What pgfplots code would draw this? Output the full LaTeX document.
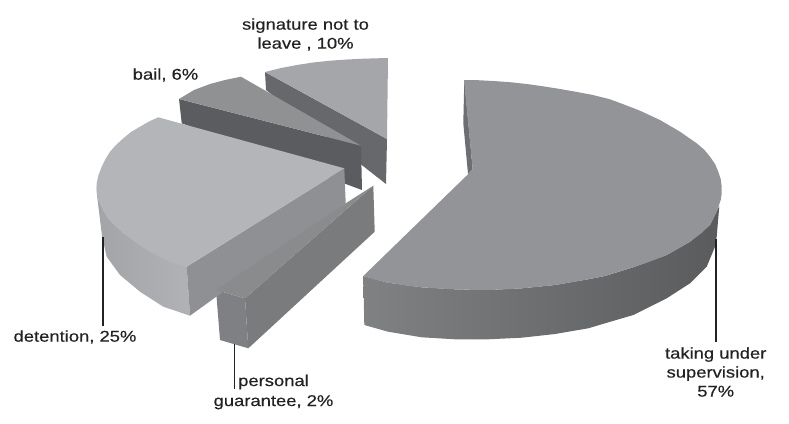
\documentclass[border=0pt]{standalone}
\usepackage{fontspec}
\setmainfont[FakeStretch=1.18,FakeBold=0.4]{Liberation Sans}
\usepackage{pgfplots}
\pgfplotsset{compat=1.18}
\definecolor{txt}{HTML}{222222}
\tikzset{lbl/.style={font=\fontsize{15.6}{19}\selectfont, text=txt, align=center, inner sep=0pt}}
\begin{document}
\begin{tikzpicture}
\path[use as bounding box] (0,0) rectangle (789pt,423pt);
\begin{axis}[
  at={(0,0)}, anchor=south west,
  scale only axis, width=789pt, height=423pt,
  xmin=0, xmax=789, ymin=0, ymax=423, y dir=reverse,
  axis lines=none, clip=false,
  every axis plot/.append style={draw=none, forget plot},
]
% signature not to leave: 10%
\addplot[fill={rgb,255:red,103;green,104;blue,107}] coordinates {(265,72) (387,139) (386,184) (266,90)} --cycle;
\addplot[fill={rgb,255:red,164;green,166;blue,169}] coordinates {(265,72) (281,68) (297,65) (313,62.5) (330,60.7) (347,59.5) (363,58.7) (388,58) (387,139)} --cycle;
% bail: 6%
\addplot[fill={rgb,255:red,91;green,92;blue,95}] coordinates {(179,99) (361,145.7) (362,190) (181.7,123.3)} --cycle;
\addplot[fill={rgb,255:red,143;green,145;blue,147}] coordinates {(179,99) (194,90) (210,84) (225,80) (241,76.7) (361,145.7)} --cycle;
% personal guarantee: 2%
\addplot[fill={rgb,255:red,127;green,128;blue,131}] coordinates {(216,290) (245,298.3) (248.3,348.3) (220,340)} --cycle;
\addplot[fill={rgb,255:red,122;green,123;blue,125}] coordinates {(245,298.3) (373.3,185.7) (374.7,231.7) (248.3,348.3)} --cycle;
% detention: 25%
\addplot[left color={rgb,255:red,162;green,164;blue,167}, right color={rgb,255:red,176;green,178;blue,181}] coordinates {(96.7,186.7) (186.7,266.7) (190,315.7) (163.3,306.7) (140,291.7) (120,275) (106.7,256.7) (102,236) (97,195)} --cycle;
\addplot[fill={rgb,255:red,143;green,144;blue,147}] coordinates {(186.7,266.7) (344.3,168.3) (345.7,203.3) (190,315.7)} --cycle;
\addplot[fill={rgb,255:red,137;green,139;blue,141}] coordinates {(216,290) (245,298.3) (373.3,185.7) (345.7,203.3)} --cycle;
\addplot[fill={rgb,255:red,179;green,181;blue,184}] coordinates {(158.3,117.3) (149,121.5) (140,126.7) (131,132) (123.3,138.3) (116,145) (110,151.7) (105.5,159) (101.7,166.7) (98.5,175) (96.7,183.3) (96.7,192) (98.3,200) (102,208.5) (106.7,216.7) (114,225) (123.3,233.3) (134.5,241.5) (146.7,250) (158,256) (170,261.7) (178,264.5) (186.7,266.7) (344.3,168.3)} --cycle;
% taking under supervision: 57%
\addplot[fill={rgb,255:red,109;green,110;blue,113}] coordinates {(464.3,80) (463.3,123.3) (468,174) (472.7,169.3)} --cycle;
\addplot[left color={rgb,255:red,128;green,129;blue,131}, middle color={rgb,255:red,106;green,107;blue,110}, right color={rgb,255:red,90;green,91;blue,93}] coordinates {(363.3,276) (388,282.7) (421.7,287.3) (455,289.3) (488,290) (521.7,288.3) (555,285) (588,279.3) (605,276) (633.3,267.3) (666.7,255) (690,241.7) (710,225) (719.3,206) (716.7,236.7) (715,246.7) (706.7,266.7) (690,283.3) (666.7,298.3) (633.3,315) (605,323.3) (588.3,328.3) (555,334) (521.7,337.7) (488,339.3) (455,339.3) (421.7,337.3) (388,331.7) (364.3,325)} --cycle;
\addplot[fill={rgb,255:red,147;green,148;blue,151}] coordinates {(464,80) (478,80.2) (493.3,81) (510,82.2) (526.7,84) (543,86.3) (560,89) (576,91.8) (593,95) (610,99.3) (620,103) (640,110.7) (660,120) (680,131.7) (696.7,143.3) (704,149.5) (710,156.7) (715,164) (718.3,171.7) (720.7,179) (721.7,186.7) (721.7,193.5) (720.7,200) (716.5,212.5) (710,225) (701,233.5) (690,241.7) (678.5,248.5) (666.7,255) (650,261.5) (633.3,267.3) (616,272.5) (605,276) (588,279.3) (572,282.2) (555,285) (538,286.8) (521.7,288.3) (505,289.4) (488,290) (471,289.8) (455,289.3) (438,288.5) (421.7,287.3) (405,285.3) (388,282.7) (375,279.5) (363.3,276) (468.3,174) (472.7,169.3)} --cycle;
% leader lines
\addplot[draw=txt, line width=1.4pt] coordinates {(103,237) (103,326)};
\addplot[draw=txt, line width=1.4pt] coordinates {(234.5,344) (234.5,389)};
\addplot[draw=txt, line width=1.4pt] coordinates {(716,239) (716,342)};
% slice labels
\node[lbl] at (axis cs:305.5,34.5) {signature not to\\leave , 10\%};
\node[lbl] at (axis cs:165.5,75) {bail, 6\%};
\node[lbl] at (axis cs:75,337) {detention, 25\%};
\node[lbl] at (axis cs:273.5,392) {personal\\[1pt]guarantee, 2\%};
\node[lbl] at (axis cs:715.7,372) {taking under\\supervision,\\57\%};
\end{axis}
\end{tikzpicture}
\end{document}
